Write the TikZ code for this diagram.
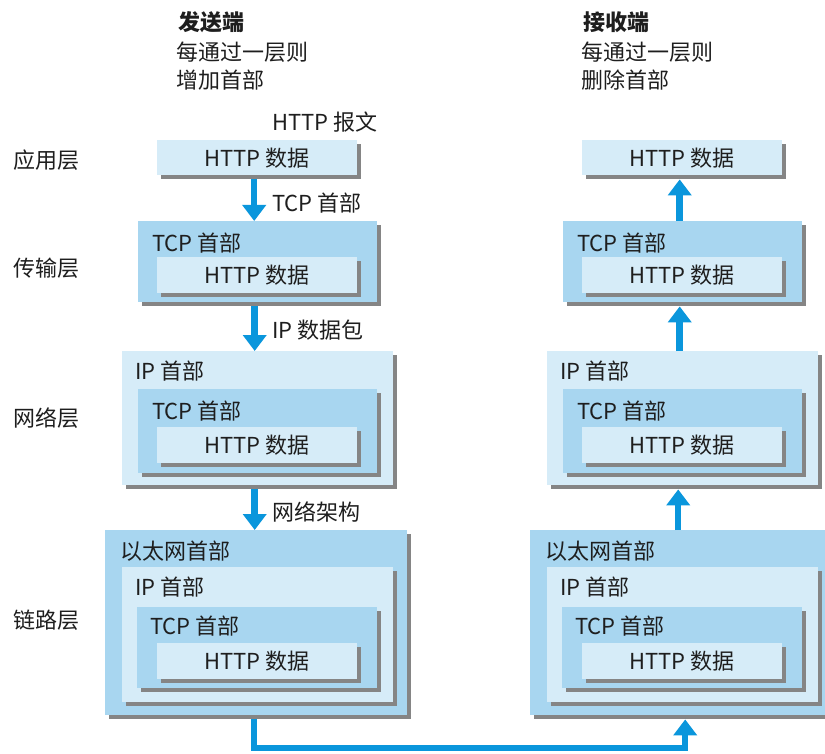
\documentclass[tikz,border=0pt]{standalone}
\usepackage{fontspec}
\setmainfont{Noto Sans CJK SC}
\usepackage{tikz}
\usetikzlibrary{arrows.meta}
\usetikzlibrary{shadows}
\usetikzlibrary{positioning}

\definecolor{pktlight}{HTML}{D6ECF8}
\definecolor{pktdark}{HTML}{A8D6F0}
\definecolor{flowblue}{HTML}{0A96DC}
\definecolor{shadegray}{HTML}{858585}
\definecolor{inkgray}{HTML}{1E1E1E}

\tikzset{
	pkt/.style={fill=#1, draw=none, inner sep=0pt, anchor=north west,
		general shadow={fill=shadegray, shadow xshift=4pt, shadow yshift=-4pt}},
	hdr/.style={anchor=west, inner sep=0pt},
	flow/.style={draw=flowblue, line width=6.5pt, -{Triangle[width=23pt,length=16pt]}},
}

\begin{document}
\begin{tikzpicture}[x=1pt, y=-1pt, font=\fontsize{22}{28}\selectfont, text=inkgray]
	\useasboundingbox (0,0) rectangle (825,754);
	\node[hdr, font=\fontsize{22}{28}\selectfont\bfseries] (sendt) at (178,22) {发送端};
	\node[hdr] (senda) at (176,52) {每通过一层则};
	\node[hdr] (sendb) at (176,80) {增加首部};
	\node[hdr, font=\fontsize{22}{28}\selectfont\bfseries] (recvt) at (583,22) {接收端};
	\node[hdr] (recva) at (581,52) {每通过一层则};
	\node[hdr] (recvb) at (581,80) {删除首部};
	\node[hdr] (lapp) at (13,160) {应用层};
	\node[hdr] (ltcp) at (13,268) {传输层};
	\node[hdr] (lip) at (13,418) {网络层};
	\node[hdr] (leth) at (13,620) {链路层};
	\foreach \s/\dx in {S/0,R/425}{
		\node[pkt=pktlight, minimum width=200pt, minimum height=35pt] (app\s) at (\dx+157,140) {HTTP 数据};
		\node[pkt=pktdark, minimum width=239pt, minimum height=81pt] (tcp\s) at (\dx+138,221) {};
		\node[hdr] (tcph\s) at (\dx+152,243) {TCP 首部};
		\node[pkt=pktlight, minimum width=200pt, minimum height=36pt] (tcpd\s) at (\dx+157,257) {HTTP 数据};
		\node[pkt=pktlight, minimum width=271pt, minimum height=134pt] (ip\s) at (\dx+122,351) {};
		\node[hdr] (iph\s) at (\dx+135,371) {IP 首部};
		\node[pkt=pktdark, minimum width=239pt, minimum height=84pt] (iptcp\s) at (\dx+138,389) {};
		\node[hdr] (iptcph\s) at (\dx+152,411) {TCP 首部};
		\node[pkt=pktlight, minimum width=200pt, minimum height=36pt] (ipd\s) at (\dx+157,427) {HTTP 数据};
		\node[pkt=pktdark, minimum width=302pt, minimum height=185pt] (eth\s) at (\dx+105,530) {};
		\node[hdr] (ethh\s) at (\dx+120,551) {以太网首部};
		\node[pkt=pktlight, minimum width=271pt, minimum height=135pt] (ethip\s) at (\dx+122,567) {};
		\node[hdr] (ethiph\s) at (\dx+135,587) {IP 首部};
		\node[pkt=pktdark, minimum width=240pt, minimum height=81pt] (ethtcp\s) at (\dx+137,607) {};
		\node[hdr] (ethtcph\s) at (\dx+150,626) {TCP 首部};
		\node[pkt=pktlight, minimum width=200pt, minimum height=36pt] (ethd\s) at (\dx+157,643) {HTTP 数据};
		\coordinate (appb\s) at ([yshift=-4pt]app\s.south);
		\coordinate (tcpb\s) at ([yshift=-4pt]tcp\s.south);
		\coordinate (ipb\s) at ([yshift=-4pt]ip\s.south);
		\coordinate (ethb\s) at ([yshift=-4pt]eth\s.south);
	}
	\node[hdr] (msg) at (272,122) {HTTP 报文};
	\node[hdr] (addtcp) at (272,203) {TCP 首部};
	\node[hdr] (addip) at (272,330) {IP 数据包};
	\node[hdr] (addeth) at (272,512) {网络架构};
	\draw[flow] ([xshift=-3pt]appbS) -- ([xshift=-3pt]appbS |- tcpS.north);
	\draw[flow] ([xshift=-3pt]tcpbS) -- ([xshift=-3pt]tcpbS |- ipS.north);
	\draw[flow] ([xshift=-3pt]ipbS) -- ([xshift=-3pt]ipbS |- ethS.north);
	\draw[flow] ([xshift=-3pt]tcpR.north) -- ([xshift=-3pt]tcpR.north |- appbR);
	\draw[flow] ([xshift=-3pt]ipR.north) -- ([xshift=-3pt]ipR.north |- tcpbR);
	\draw[flow] ([xshift=-3pt]ethR.north) -- ([xshift=-3pt]ethR.north |- ipbR);
	\coordinate (bus) at (0,748);
	\draw[flow] ([xshift=-2pt]ethbS) |- ([xshift=4pt]ethbR |- bus) -- ([xshift=4pt]ethbR);
\end{tikzpicture}
\end{document}
